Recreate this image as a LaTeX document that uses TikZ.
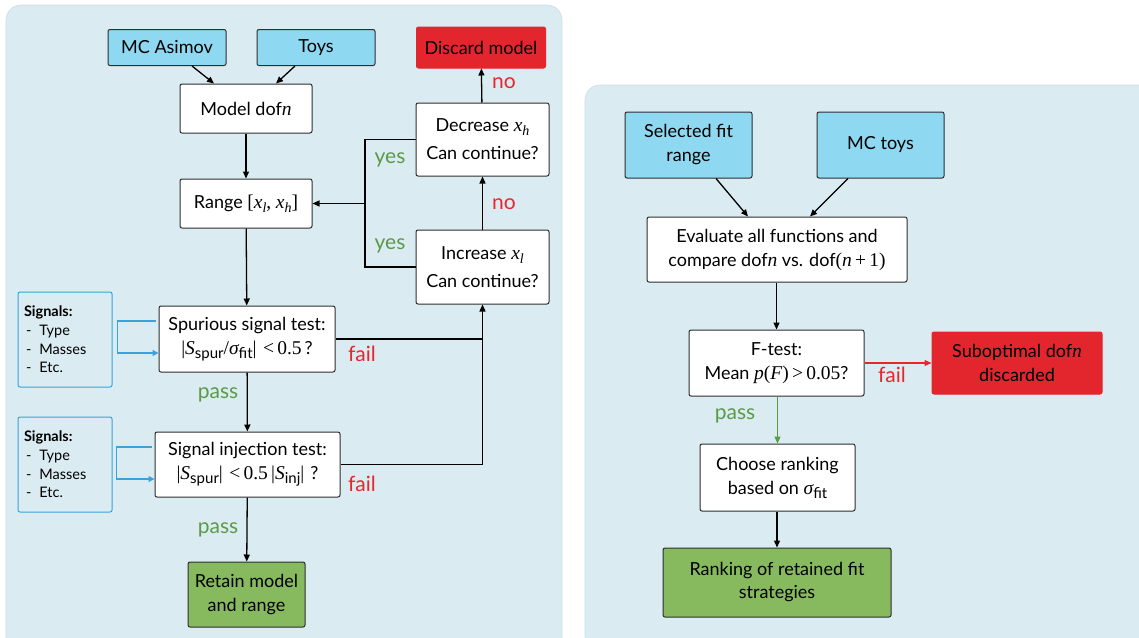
\documentclass[tikz,border=0pt]{standalone}
\usepackage{fontspec}
\setmainfont{Lato}
\newfontfamily\tmsf{Liberation Serif}
\usetikzlibrary{arrows.meta,calc}

\definecolor{panelbg}{HTML}{DAEBF1}
\definecolor{paneledge}{HTML}{CCDDE3}
\definecolor{inputcyan}{HTML}{8FD8F1}
\definecolor{discardred}{HTML}{E3262E}
\definecolor{keepgreen}{HTML}{87BA5E}
\definecolor{yesgreen}{HTML}{5A9B48}
\definecolor{failred}{HTML}{E8262E}
\definecolor{sigblue}{HTML}{3AA3DC}
\definecolor{boxline}{HTML}{2E2E2E}

% serif italic variables, serif numbers, lowered sans subscripts
\newcommand\mvar[1]{{\fontsize{19.5}{24}\selectfont\tmsf\itshape #1}}
\newcommand\mnum[1]{{\fontsize{19.5}{24}\selectfont\tmsf #1}}
\newcommand\lowsub[1]{\raisebox{-0.45ex}{\fontsize{15}{15}\selectfont #1}}
\newcommand\vsub[1]{\raisebox{-0.45ex}{\fontsize{14}{14}\selectfont\tmsf\itshape #1}}

\tikzset{
  box/.style={draw=boxline, line width=1pt, rounded corners=2pt, fill=white,
    align=center, inner sep=0pt, font=\fontsize{18}{24}\selectfont},
  inputbox/.style={box, fill=inputcyan},
  redbox/.style={box, fill=discardred, draw=discardred},
  greenbox/.style={box, fill=keepgreen},
  sigbox/.style={draw=sigblue, line width=1pt, rounded corners=2pt,
    minimum width=94pt, minimum height=95pt, text width=82pt, align=left,
    inner sep=0pt, font=\fontsize{14.5}{18.7}\selectfont},
  arr/.style={-{Triangle[length=7pt,width=6pt]}, line width=1.3pt, draw=black},
  plain/.style={line width=1.3pt, draw=black},
  sigarr/.style={-{Triangle[length=6pt,width=6pt]}, line width=1.2pt, draw=sigblue},
  yeslbl/.style={text=yesgreen, font=\fontsize{21}{21}\selectfont, inner sep=0pt},
  nolbl/.style={text=failred, font=\fontsize{21}{21}\selectfont, inner sep=0pt},
}

\begin{document}
\begin{tikzpicture}[x=1pt,y=-1pt]
\useasboundingbox (0,0) rectangle (1139,637);

% background panels
\filldraw[fill=panelbg, draw=paneledge, line width=0.6pt, rounded corners=15pt]
  (6,5) rectangle (562,652);
\filldraw[fill=panelbg, draw=paneledge, line width=0.6pt, rounded corners=15pt]
  (585,85) rectangle (1155,652);

% ---------------- left flow: model and range selection ----------------
\node[inputbox, minimum width=118pt, minimum height=36pt] (asimov) at (167,47.5) {MC Asimov};
\node[inputbox, minimum width=118pt, minimum height=36pt] (toys) at (316,47.5) {Toys};
\node[redbox, minimum width=129pt, minimum height=41pt] (discard) at (481,47.5) {Discard model};
\node[box, minimum width=132pt, minimum height=49pt] (model) at (246,108.5) {Model dof\mvar{n}};
\node[box, minimum width=132pt, minimum height=49pt] (range) at (246,203.5)
  {Range \mnum{[}\mvar{x}\vsub{l}\mnum{,} \mvar{x}\vsub{h}\mnum{]}};
\node[box, minimum width=133pt, minimum height=73pt, font=\fontsize{18}{28}\selectfont]
  (decrease) at (482.5,139.5) {Decrease \mvar{x}\vsub{h}\\Can continue?};
\node[box, minimum width=133pt, minimum height=74pt, font=\fontsize{18}{28}\selectfont]
  (increase) at (482.5,267) {Increase \mvar{x}\vsub{l}\\Can continue?};
\node[box, minimum width=176pt, minimum height=66pt] (spurious) at (247,339)
  {Spurious signal test:\\
   \mnum{|}\mvar{S}\lowsub{spur}\mnum{/}\mvar{σ}\lowsub{fit}\mnum{|\,\,<\,0.5}\,?};
\node[box, minimum width=185pt, minimum height=65pt] (injection) at (247.5,464.5)
  {Signal injection test:\\
   \mnum{|}\mvar{S}\lowsub{spur}\mnum{|\,\,<\,0.5\,|}\mvar{S}\lowsub{inj}\mnum{|}\,\,?};
\node[greenbox, minimum width=117pt, minimum height=65pt] (retain) at (246.5,594.5)
  {Retain model\\and range};

\node[sigbox] (sig1) at (65,339.5)
  {\textbf{Signals:}\\\hspace*{2pt}-\hspace{8pt}Type\\\hspace*{2pt}-\hspace{8pt}Masses\\\hspace*{2pt}-\hspace{8pt}Etc.};
\node[sigbox] (sig2) at (65,464.5)
  {\textbf{Signals:}\\\hspace*{2pt}-\hspace{8pt}Type\\\hspace*{2pt}-\hspace{8pt}Masses\\\hspace*{2pt}-\hspace{8pt}Etc.};

% connectors
\draw[arr] ([xshift=25pt]asimov.south) -- ([xshift=-32pt]model.north);
\draw[arr] ([xshift=-21pt]toys.south) -- ([xshift=30pt]model.north);
\draw[arr] (model) -- (range);
\draw[arr] (range) -- (spurious);
\draw[arr] (spurious) -- (injection);
\draw[arr] (injection) -- (retain);

\coordinate (failjoin) at (increase.south |- spurious.east);
\draw[arr] (spurious.east) -| (increase.south);
\draw[plain] (injection.east) -| (failjoin);
\draw[arr] (increase) -- (decrease);
\draw[arr] (decrease) -- (discard);

\coordinate (loop) at (365,203.5);
\draw[plain] (decrease.west) -| (loop) |- (increase.west);
\draw[arr] (loop) -- (range.east);

\draw[sigarr] ([xshift=-3pt,yshift=18pt]spurious.west) -- ++(-38,0)
  |- ([yshift=-14pt]spurious.west);
\draw[sigarr] ([xshift=-3pt,yshift=17.5pt]injection.west) -- ++(-35,0)
  |- ([yshift=-14.5pt]injection.west);

% branch labels
\node[yeslbl] (yes1) at (390,160) {yes};
\node[yeslbl] (yes2) at (390,246) {yes};
\node[nolbl] (no1) at (504,83) {no};
\node[nolbl] (no2) at (504,204) {no};
\node[nolbl] (fail1) at (362,354) {fail};
\node[nolbl] (fail2) at (362,484) {fail};
\node[yeslbl] (pass1) at (218,395) {pass};
\node[yeslbl] (pass2) at (218,530) {pass};

% ---------------- right flow: F-test ranking ----------------
\node[inputbox, minimum width=127pt, minimum height=66pt] (selrange) at (688.5,145)
  {Selected fit\\range};
\node[inputbox, minimum width=127pt, minimum height=66pt] (mctoys) at (880.5,145) {MC toys};
\node[box, minimum width=260pt, minimum height=65pt] (evaluate) at (777,249.5)
  {Evaluate all functions and\\compare dof\mvar{n} vs. dof\mnum{(}\mvar{n}\mnum{\,+\,1)}};
\node[box, minimum width=175pt, minimum height=66pt] (ftest) at (776.5,363)
  {F-test:\\Mean \mvar{p}\mnum{(}\mvar{F}\mnum{)\,>\,0.05}?};
\node[redbox, minimum width=170pt, minimum height=62pt] (subopt) at (1017,363)
  {Suboptimal dof\mvar{n}\\discarded};
\node[box, minimum width=155pt, minimum height=67pt] (choose) at (777.5,477.5)
  {Choose ranking\\based on \mvar{σ}\lowsub{fit}};
\node[greenbox, minimum width=228pt, minimum height=69pt, font=\fontsize{18}{23}\selectfont]
  (ranking) at (777,582.5) {Ranking of retained fit\\strategies};

\draw[arr] ([xshift=27.5pt]selrange.south) -- ([xshift=-29pt]evaluate.north);
\draw[arr] ([xshift=-32.5pt]mctoys.south) -- ([xshift=33pt]evaluate.north);
\draw[arr] (evaluate.south -| ftest.north) -- (ftest.north);
\draw[arr, draw=yesgreen, line width=1.1pt] (ftest.south -| choose.north) -- (choose.north);
\draw[arr] (choose.south -| ranking.north) -- (ranking.north);
\draw[arr, draw=failred, line width=1.1pt] (ftest.east) -- (subopt.west);

\node[nolbl] (fail3) at (892,375) {fail};
\node[yeslbl] (pass3) at (735,416) {pass};
\end{tikzpicture}
\end{document}
